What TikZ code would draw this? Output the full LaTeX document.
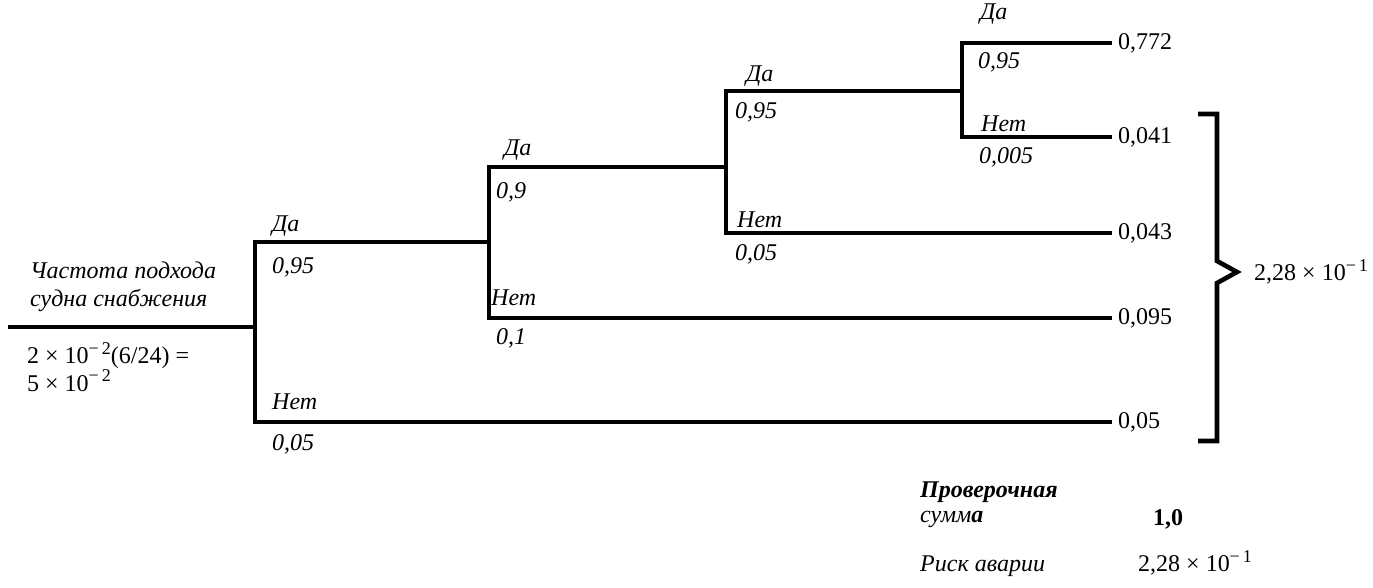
\documentclass[tikz,border=0pt]{standalone}
\usepackage{fontspec}
\setmainfont{Liberation Serif}
\newcommand{\supx}[1]{\raisebox{0.85ex}{\fontsize{18}{18}\selectfont #1}}
\begin{document}
\begin{tikzpicture}[x=1pt,y=-1pt,
  tree/.style={line width=3.5pt, line join=miter},
  brk/.style={line width=4.6pt, line join=miter},
  lbl/.style={font=\fontsize{24}{28}\selectfont\itshape, anchor=west, inner sep=0pt},
  num/.style={font=\fontsize{24}{26}\selectfont, anchor=west, inner sep=0pt},
  term/.style={font=\fontsize{24}{26}\selectfont, anchor=west, inner xsep=6pt, inner ysep=0pt}]
\useasboundingbox (0,0) rectangle (1373,587);
% junction coordinates
\coordinate (r0) at (8,327);
\coordinate (a) at (255,327);
\coordinate (a1) at (255,242);
\coordinate (a2) at (255,422);
\coordinate (b1) at (489,167);
\coordinate (b) at (489,242);
\coordinate (b2) at (489,318);
\coordinate (c1) at (726,91);
\coordinate (c) at (726,167);
\coordinate (c2) at (726,233);
\coordinate (d1) at (962,43);
\coordinate (d) at (962,91);
\coordinate (d2) at (962,137);
% terminal values
\node[term] (t1) at (1112,43) {0,772};
\node[term] (t2) at (1112,137) {0,041};
\node[term] (t3) at (1112,233) {0,043};
\node[term] (t4) at (1112,318) {0,095};
\node[term] (t5) at (1112,422) {0,05};
% tree
\draw[tree] (r0) -- (a);
\draw[tree] (b) -- (a1) -- (a2) -- (t5.west);
\draw[tree] (c) -- (b1) -- (b2) -- (t4.west);
\draw[tree] (d) -- (c1) -- (c2) -- (t3.west);
\draw[tree] (t1.west) -- (d1) -- (d2) -- (t2.west);
% branch labels
\node[lbl] (l1y) at (272,226) {Да};
\node[lbl] (p1y) at (272,267) {0,95};
\node[lbl] (l1n) at (272,402) {Нет};
\node[lbl] (p1n) at (272,444) {0,05};
\node[lbl] (l2y) at (504,150) {Да};
\node[lbl] (p2y) at (496,192) {0,9};
\node[lbl] (l2n) at (491,298) {Нет};
\node[lbl] (p2n) at (496,338) {0,1};
\node[lbl] (l3y) at (746,76) {Да};
\node[lbl] (p3y) at (735,112) {0,95};
\node[lbl] (l3n) at (737,220) {Нет};
\node[lbl] (p3n) at (735,254) {0,05};
\node[lbl] (l4y) at (980,14) {Да};
\node[lbl] (p4y) at (978,62) {0,95};
\node[lbl] (l4n) at (981,124) {Нет};
\node[lbl] (p4n) at (979,157) {0,005};
% source text
\node[lbl, align=left, font=\fontsize{24}{28}\selectfont\itshape] (src) at (30,287) {Частота подхода\\судна снабжения};
\node[num, align=left, font=\fontsize{24}{23}\selectfont] (frm) at (27,367) {2 × 10\supx{−\,2}(6/24) =\\5 × 10\supx{−\,2}};
% bracket
\coordinate (bt) at (1198,114);
\coordinate (btip) at (1237,272);
\coordinate (bb) at (1198,441);
\draw[brk] (bt) -- (1217,114) -- (1217,261) -- (btip) -- (1217,283) -- (1217,441) -- (bb);
\node[num] (sum) at (1254,272) {2,28 × 10\supx{−\,1}};
% bottom block
\node[lbl, font=\fontsize{24}{26}\selectfont\bfseries\itshape] (chk1) at (920,492) {Проверочная};
\node[lbl] (chk2) at (920,519) {сумм\textbf{а}};
\node[num, font=\fontsize{24}{26}\selectfont\bfseries] (one) at (1153,519) {1,0};
\node[lbl] (risk) at (920,566) {Риск аварии};
\node[num] (riskv) at (1138,563) {2,28 × 10\supx{−\,1}};
\end{tikzpicture}
\end{document}
